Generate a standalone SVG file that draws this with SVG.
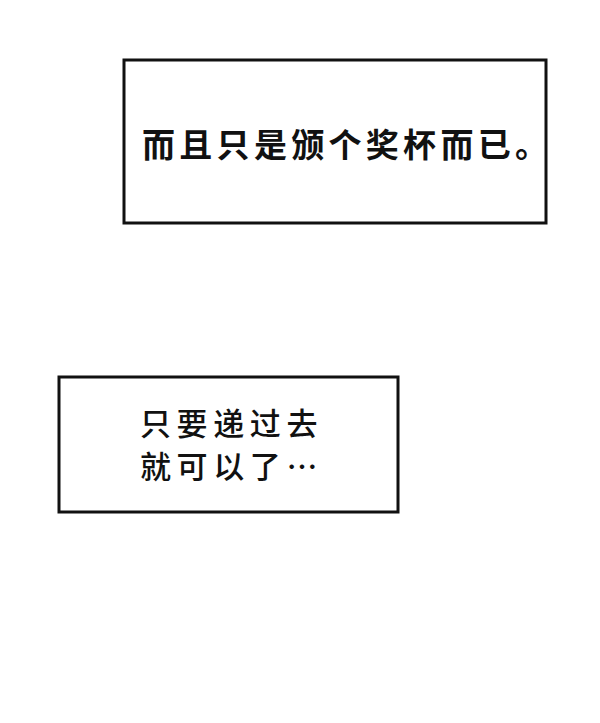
<svg xmlns="http://www.w3.org/2000/svg" width="600" height="723" viewBox="0 0 600 723">
<style>
.box{fill:#fff;stroke:#111;stroke-width:3}
.t{font-family:"Noto Sans CJK SC","Noto Sans CJK JP",sans-serif;fill:#111}
</style>
<rect width="600" height="723" fill="#fff"/>
<g id="box1">
<rect class="box" x="124" y="60" width="422" height="163"/>
<text class="t" x="142" y="157" font-size="33" font-weight="700" letter-spacing="4.3">而且只是颁个奖杯而已。</text>
</g>
<g id="box2">
<rect class="box" x="59" y="377" width="339" height="135"/>
<text class="t" x="140" y="435" font-size="31" font-weight="500" letter-spacing="5.6">只要递过去</text>
<text class="t" x="140" y="478" font-size="31" font-weight="500" letter-spacing="5.6">就可以了…</text>
</g>
</svg>
